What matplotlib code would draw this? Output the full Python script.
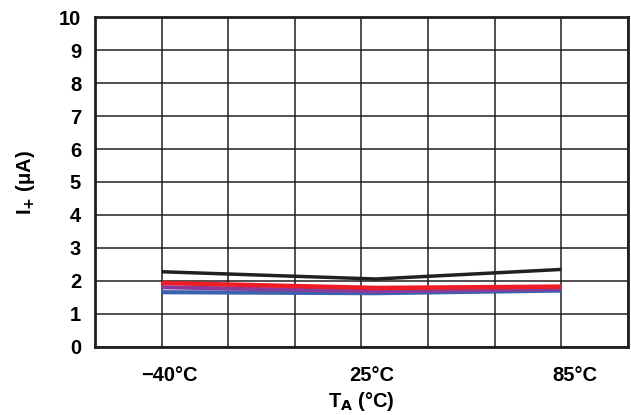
import matplotlib.pyplot as plt
from matplotlib.ticker import FixedLocator

plt.rcParams['font.family'] = ['Liberation Sans', 'DejaVu Sans']
plt.rcParams['font.weight'] = 'bold'

# données
temperatures = ["\u221240\u00b0C", "25\u00b0C", "85\u00b0C"]
x_pos = [1.0, 4.22, 7.0]            # positions des points (en colonnes de grille)
label_pos = [1.11, 4.16, 7.21]      # position des étiquettes
courbe_noire = [2.28, 2.06, 2.35]
courbe_rouge = [1.94, 1.79, 1.83]
courbe_violette = [1.81, 1.69, 1.76]
courbe_bleue = [1.66, 1.63, 1.71]

fig = plt.figure(figsize=(6.31, 4.15), dpi=100)
ax = fig.add_axes([0.1506, 0.1639, 0.8446, 0.7951])

ax.plot(x_pos, courbe_bleue, color="#3a62ad", lw=3.0, solid_capstyle='butt')
ax.plot(x_pos, courbe_violette, color="#8a3a9a", lw=3.0, solid_capstyle='butt')
ax.plot(x_pos, courbe_rouge, color="#ee1c25", lw=3.2, solid_capstyle='butt')
ax.plot(x_pos, courbe_noire, color="#231f20", lw=2.5, solid_capstyle='butt')

ax.set_xlim(0, 8)
ax.set_ylim(0, 10)
ax.set_yticks(range(0, 11))
ax.set_xticks(label_pos)
ax.set_xticklabels(temperatures)
ax.xaxis.set_minor_locator(FixedLocator(range(0, 9)))
ax.grid(True, which='minor', axis='x', color='#231f20', lw=1.1)
ax.grid(True, which='major', axis='y', color='#231f20', lw=1.1)
ax.tick_params(axis='both', which='both', length=0, labelsize=14.5)
ax.tick_params(axis='y', pad=10)
ax.tick_params(axis='x', pad=14)

for s in ax.spines.values():
    s.set_linewidth(2.0)
    s.set_color('#231f20')

ax.set_xlabel("T$_\\mathbf{A}$ (\u00b0C)", fontsize=14.5, fontweight='bold', labelpad=3)
ax.set_ylabel("I$_\\mathbf{+}$ (\u03bcA)", fontsize=14.5, fontweight='bold', labelpad=16)

fig.savefig("out.png", dpi=100)
